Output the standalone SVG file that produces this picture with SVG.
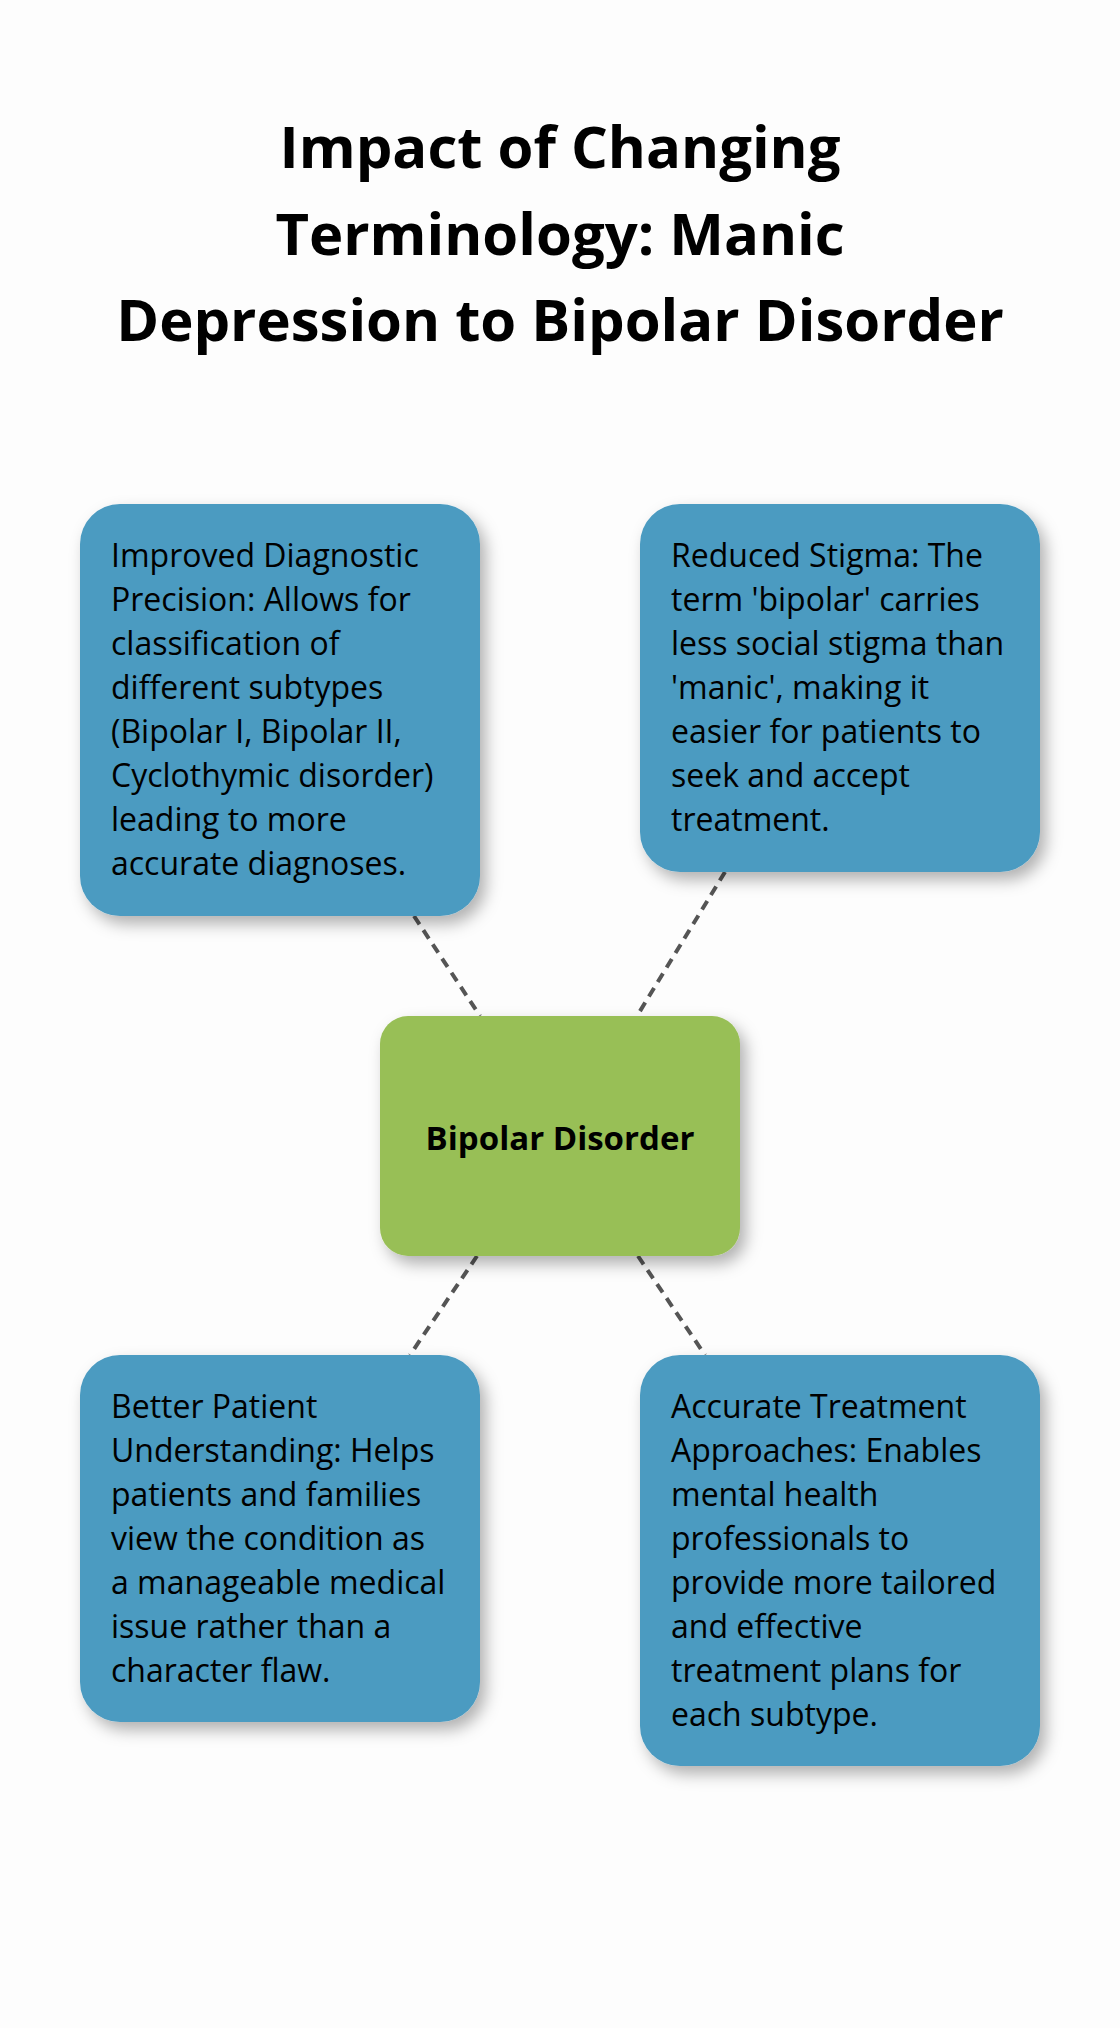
<svg xmlns="http://www.w3.org/2000/svg" width="1120" height="2028" viewBox="0 0 1120 2028">
<defs>
<filter id="sh" x="-20%" y="-20%" width="150%" height="150%"><feDropShadow dx="6" dy="8" stdDeviation="8" flood-color="#000" flood-opacity="0.3"/></filter>
<style>
.b{fill:#4B9BC1;filter:url(#sh)}
.g{fill:#98BF57;filter:url(#sh)}
.t{font-family:"Open Sans","Liberation Sans",sans-serif;font-size:32px;fill:#000}
.h{font-family:"Open Sans","Liberation Sans",sans-serif;font-weight:bold;text-anchor:middle;fill:#000}
.c{stroke:#555;stroke-width:4;stroke-dasharray:10,7;fill:none}
</style>
</defs>
<rect width="1120" height="2028" fill="#FDFDFD"/>
<g id="title">
<text class="h" font-size="58" x="560" y="168">Impact of Changing</text>
<text class="h" font-size="58" x="560" y="255">Terminology: Manic</text>
<text class="h" font-size="58" x="560" y="341">Depression to Bipolar Disorder</text>
</g>
<g id="connectors">
<line class="c" x1="414" y1="916" x2="480" y2="1016"/>
<line class="c" x1="725" y1="872" x2="637" y2="1016"/>
<line class="c" x1="477" y1="1256" x2="410" y2="1355"/>
<line class="c" x1="638" y1="1256" x2="705" y2="1355"/>
</g>
<g id="center">
<rect class="g" x="380" y="1016" width="360" height="240" rx="28"/>
<text class="h" font-size="33" x="560" y="1150">Bipolar Disorder</text>
</g>
<g id="n1">
<rect class="b" x="80" y="504" width="400" height="412" rx="40"/>
<text class="t" x="111" y="567">Improved Diagnostic<tspan x="111" dy="44">Precision: Allows for</tspan><tspan x="111" dy="44">classification of</tspan><tspan x="111" dy="44">different subtypes</tspan><tspan x="111" dy="44">(Bipolar I, Bipolar II,</tspan><tspan x="111" dy="44">Cyclothymic disorder)</tspan><tspan x="111" dy="44">leading to more</tspan><tspan x="111" dy="44">accurate diagnoses.</tspan></text>
</g>
<g id="n2">
<rect class="b" x="640" y="504" width="400" height="368" rx="40"/>
<text class="t" x="671" y="567">Reduced Stigma: The<tspan x="671" dy="44">term 'bipolar' carries</tspan><tspan x="671" dy="44">less social stigma than</tspan><tspan x="671" dy="44">'manic', making it</tspan><tspan x="671" dy="44">easier for patients to</tspan><tspan x="671" dy="44">seek and accept</tspan><tspan x="671" dy="44">treatment.</tspan></text>
</g>
<g id="n3">
<rect class="b" x="80" y="1355" width="400" height="367" rx="40"/>
<text class="t" x="111" y="1418">Better Patient<tspan x="111" dy="44">Understanding: Helps</tspan><tspan x="111" dy="44">patients and families</tspan><tspan x="111" dy="44">view the condition as</tspan><tspan x="111" dy="44">a manageable medical</tspan><tspan x="111" dy="44">issue rather than a</tspan><tspan x="111" dy="44">character flaw.</tspan></text>
</g>
<g id="n4">
<rect class="b" x="640" y="1355" width="400" height="411" rx="40"/>
<text class="t" x="671" y="1418">Accurate Treatment<tspan x="671" dy="44">Approaches: Enables</tspan><tspan x="671" dy="44">mental health</tspan><tspan x="671" dy="44">professionals to</tspan><tspan x="671" dy="44">provide more tailored</tspan><tspan x="671" dy="44">and effective</tspan><tspan x="671" dy="44">treatment plans for</tspan><tspan x="671" dy="44">each subtype.</tspan></text>
</g>
</svg>
